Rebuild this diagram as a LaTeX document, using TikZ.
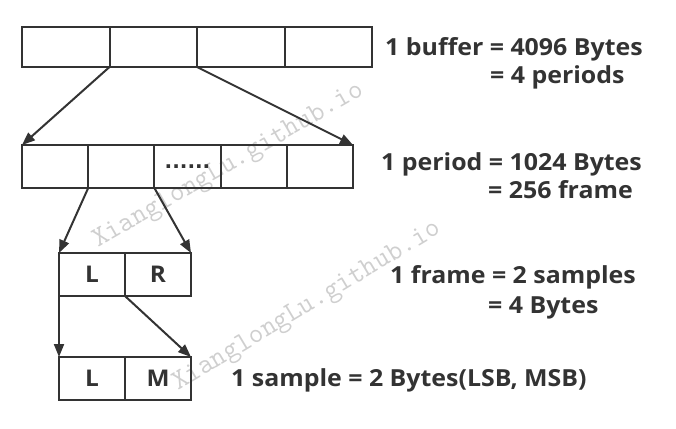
\documentclass[tikz,border=0pt]{standalone}
\usepackage{fontspec}
\setmainfont{Open Sans}[FakeStretch=1.06]
\newfontfamily\dotfont{DejaVu Sans}
\usetikzlibrary{arrows.meta}
\definecolor{ink}{HTML}{333333}
\definecolor{wm}{HTML}{CFCFCF}
\tikzset{
  cell/.style={draw=ink, line width=2pt, inner sep=0pt, outer sep=0pt, minimum height=#1},
  bcell/.style={cell=40pt, minimum width=87.5pt},
  pcell/.style={cell=43pt, minimum width=66.2pt},
  fcell/.style={cell=43pt, minimum width=66pt, font=\bfseries\fontsize{23}{27}\selectfont, text=ink},
  link/.style={draw=ink, line width=2pt, -{Triangle[length=13pt,width=10pt]}},
  lbl/.style={anchor=base west, inner sep=0pt, text=ink, font=\bfseries\fontsize{23.5}{28}\selectfont},
  wmark/.style={anchor=base west, inner sep=0pt, text=wm, font=\ttfamily\fontsize{28.5}{32}\selectfont}
}
\begin{document}
\begin{tikzpicture}[x=1pt,y=-1pt]
\useasboundingbox (0,0) rectangle (676,428);
% watermarks
\node[wmark, rotate=30] (wm1) at (98,248) {XianglongLu.github.io};
\node[wmark, rotate=31] (wm2) at (178,391) {XianglongLu.github.io};
% buffer row
\node[bcell] (b1) at (65.75,47) {};
\node[bcell] (b2) at (153.25,47) {};
\node[bcell] (b3) at (240.75,47) {};
\node[bcell] (b4) at (328.25,47) {};
% period row
\node[pcell] (p1) at (55.1,166.5) {};
\node[pcell] (p2) at (121.3,166.5) {};
\node[pcell] (p3) at (187.5,166.5) {};
\node[pcell] (p4) at (253.7,166.5) {};
\node[pcell] (p5) at (319.9,166.5) {};
\node[inner sep=0pt, text=ink, font=\dotfont\bfseries\fontsize{20}{24}\selectfont] (dots) at (187.5,167) {......};
% frame row
\node[fcell] (f1) at (92,274.5) {L};
\node[fcell] (f2) at (158,274.5) {R};
% sample row
\node[fcell] (s1) at (92,378.5) {L};
\node[fcell] (s2) at (158,378.5) {M};
% connectors
\draw[link] (b1.south east) -- (p1.north west);
\draw[link] (b2.south east) -- (p5.north east);
\draw[link] (p1.south east) -- (f1.north west);
\draw[link] (p2.south east) -- (f2.north east);
\draw[link] (f1.south west) -- (s1.north west);
\draw[link] (f1.south east) -- (s2.north east);
% labels
\node[lbl] (t1) at (385,56) {1 buffer = 4096 Bytes};
\node[lbl] (t2) at (490,83) {= 4 periods};
\node[lbl] (t3) at (381,170) {1 period = 1024 Bytes};
\node[lbl] (t4) at (488,198) {= 256 frame};
\node[lbl] (t5) at (390,283) {1 frame = 2 samples};
\node[lbl] (t6) at (488,313) {= 4 Bytes};
\node[lbl] (t7) at (231,386) {1 sample = 2 Bytes(LSB, MSB)};
\end{tikzpicture}
\end{document}
